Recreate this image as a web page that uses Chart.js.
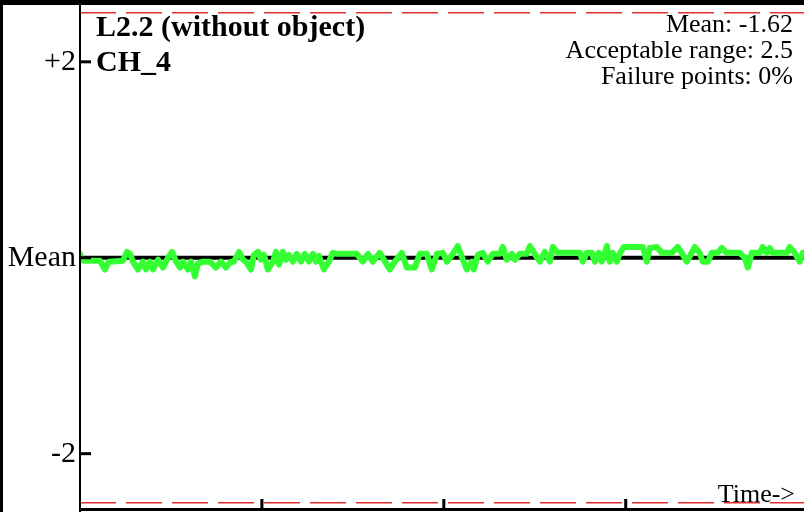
<!DOCTYPE html>
<html>
<head>
<meta charset="utf-8">
<script src="https://cdn.jsdelivr.net/npm/chart.js@4.4.0/dist/chart.umd.min.js"></script>
<style>
    html, body { margin: 0; padding: 0; background: #fff; }
    canvas { display: block; }
</style>
</head>
<body>
<canvas id="grafico-canal" width="804" height="512"></canvas>
<script>
// Tiempo (unidades arbitrarias, una marca cada 100) y desviación respecto a la media
const tiempos = [
    0, 1.6, 11.0, 13.7, 15.9, 23.6, 25.8, 27.5, 29.1, 31.9,
    34.6, 36.3, 38.5, 40.1, 42.9, 45.6, 48.4, 50.6, 52.8, 55.0,
    56.6, 59.3, 61.0, 63.2, 64.8, 67.6, 71.4, 74.7, 77.5, 80.2,
    83.0, 84.6, 87.4, 89.6, 91.2, 94.0, 95.6, 97.8, 99.5, 101.1,
    103.3, 106.1, 107.7, 109.4, 111.5, 113.2, 114.8, 117.0, 119.2, 121.4,
    123.6, 125.8, 128.0, 129.7, 131.3, 134.1, 136.8, 139.0, 141.2, 152.2,
    155.5, 158.3, 161.0, 164.8, 168.7, 170.3, 173.1, 176.9, 179.7, 184.1,
    186.8, 190.7, 193.4, 196.2, 199.5, 201.7, 205.0, 207.7, 210.5, 212.6,
    215.4, 216.5, 218.7, 221.4, 224.2, 226.9, 230.8, 232.4, 234.6, 237.4,
    239.0, 241.8, 245.6, 247.3, 250.6, 252.8, 255.5, 258.3, 259.9, 262.7,
    274.8, 276.4, 278.6, 281.3, 283.0, 285.2, 286.8, 288.5, 289.6, 291.2,
    292.9, 295.1, 296.7, 298.9, 309.4, 311.6, 313.2, 317.1, 319.8, 325.3,
    328.6, 330.8, 333.5, 336.3, 337.9, 340.7, 342.3, 345.1, 347.3, 350.6,
    352.8, 355.5, 362.7, 365.4, 367.1, 369.3, 373.7, 375.3, 377.5, 379.2,
    380.8, 388.5, 390.1, 392.9, 395.6, 397.3
];
const valores = [
    0.04, -0.03, -0.03, -0.12, -0.04, -0.03, 0.06, 0.04, -0.04, -0.12,
    -0.04, -0.12, -0.04, -0.12, -0.02, -0.10, 0, 0.06, -0.04, -0.10,
    -0.04, -0.12, -0.04, -0.19, -0.06, -0.04, -0.04, -0.10, -0.04, -0.10,
    -0.04, -0.04, 0.06, -0.02, -0.04, -0.12, 0.03, 0.06, -0.02, 0.03,
    -0.12, -0.04, 0.06, -0.07, 0.06, -0.02, 0.03, -0.04, 0.04, -0.04,
    0.04, -0.04, 0.04, -0.04, 0.02, -0.12, -0.04, 0.05, 0.04, 0.04,
    -0.04, 0.04, -0.04, 0.05, -0.07, -0.12, -0.04, 0.05, -0.10, -0.10,
    0.04, 0.04, -0.12, 0.04, 0.05, -0.04, 0.04, 0.12, -0.02, -0.12,
    -0.04, -0.12, 0.03, 0.05, -0.04, 0.04, 0.04, 0.11, -0.02, 0.04,
    -0.02, 0.04, 0.04, 0.12, 0.02, -0.04, 0.06, -0.04, 0.11, 0.05,
    0.05, -0.04, 0.05, 0.05, -0.04, 0.05, -0.04, 0.04, 0.12, -0.04,
    0.05, -0.04, 0.04, 0.11, 0.11, -0.04, 0.10, 0.11, 0.05, 0.05,
    0.11, 0.05, -0.04, 0.05, 0.11, 0.05, -0.04, -0.04, 0.05, 0.05,
    0.10, 0.05, 0.05, 0, -0.10, 0.05, 0.05, 0.11, 0.05, 0.10,
    0.05, 0.05, 0.11, 0.05, -0.04, 0.05
];
const media = 0;
const rangoAceptable = 2.5;
const tiempoMax = 398;
const marcasY = [2, 0, -2];
const etiquetasY = ['+2', 'Mean', '-2'];
const marcasX = [100, 200, 300];
const titulo = ['L2.2 (without object)', 'CH_4'];
const resumen = ['Mean: -1.62', 'Acceptable range: 2.5', 'Failure points: 0%'];
const textoEjeX = 'Time->';

const serif = '"Liberation Serif", "Times New Roman", serif';

// Ejes, marcas y textos dibujados a mano
const decoracion = {
    id: 'decoracion',
    afterDraw(chart) {
        const ctx = chart.ctx;
        const { x, y } = chart.scales;
        const area = chart.chartArea;
        ctx.save();
        ctx.fillStyle = '#000';
        // marco
        ctx.fillRect(0, 0, chart.width, 5);
        ctx.fillRect(0, 0, 3, chart.height);
        // ejes
        ctx.fillRect(area.left - 1, area.top, 2, chart.height - area.top);
        ctx.fillRect(area.left - 1, area.bottom - 2, chart.width, 3);
        // marcas del eje Y (hacia dentro)
        marcasY.forEach((v, i) => {
            const py = y.getPixelForValue(v);
            ctx.fillRect(area.left, py - 1.5, 11, 3);
            ctx.font = '30px ' + serif;
            ctx.textAlign = 'right';
            ctx.textBaseline = 'middle';
            ctx.fillText(etiquetasY[i], area.left - 4, py);
        });
        // marcas del eje X (hacia arriba)
        marcasX.forEach(t => {
            const px = x.getPixelForValue(t);
            ctx.fillRect(px - 1.5, area.bottom - 11, 3, 10);
        });
        // título
        ctx.textAlign = 'left';
        ctx.textBaseline = 'alphabetic';
        ctx.font = 'bold 30px ' + serif;
        ctx.fillText(titulo[0], area.left + 16, 36);
        ctx.fillText(titulo[1], area.left + 16, 71);
        // resumen
        ctx.textAlign = 'right';
        ctx.font = '26px ' + serif;
        resumen.forEach((linea, i) => ctx.fillText(linea, 793, 32 + i * 26));
        ctx.fillText(textoEjeX, 795, 502);
        ctx.restore();
    }
};

const puntos = tiempos.map((t, i) => ({ x: t, y: valores[i] }));
const linea = v => [{ x: 0, y: v }, { x: tiempoMax, y: v }];

new Chart(document.getElementById('grafico-canal').getContext('2d'), {
    type: 'line',
    data: {
        datasets: [
            {
                data: puntos,
                borderColor: '#33ff33',
                borderWidth: 6,
                borderJoinStyle: 'round',
                borderCapStyle: 'round',
                pointRadius: 0,
                tension: 0
            },
            {
                data: linea(media),
                borderColor: '#000',
                borderWidth: 4,
                pointRadius: 0
            },
            {
                data: linea(rangoAceptable),
                borderColor: '#e03030',
                borderWidth: 1.5,
                borderDash: [36, 10],
                pointRadius: 0
            },
            {
                data: linea(-rangoAceptable),
                borderColor: '#e03030',
                borderWidth: 1.5,
                borderDash: [36, 10],
                pointRadius: 0
            }
        ]
    },
    options: {
        responsive: false,
        animation: false,
        devicePixelRatio: 1,
        layout: { padding: { left: 80, top: 5, right: 0, bottom: 2 } },
        scales: {
            x: { type: 'linear', min: 0, max: tiempoMax, display: false },
            y: { min: -2.575, max: 2.58, display: false }
        },
        plugins: {
            legend: { display: false },
            tooltip: { enabled: false }
        }
    },
    plugins: [decoracion]
});
</script>
</body>
</html>
